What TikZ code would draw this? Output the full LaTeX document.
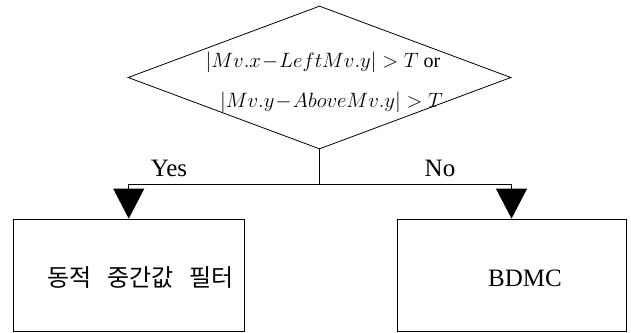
\documentclass[tikz,border=0pt]{standalone}
\usepackage{fontspec}
\setmainfont{Liberation Serif}
\newfontfamily\krfont{Noto Sans CJK KR}
\usetikzlibrary{shapes.geometric,arrows.meta}
\begin{document}
\begin{tikzpicture}[x=1pt,y=-1pt,
  line width=0.8pt,
  boxstyle/.style={draw, rectangle, inner sep=0pt},
  lbl/.style={font=\fontsize{25}{28}\selectfont, inner sep=0pt},
  mathlbl/.style={font=\fontsize{20}{24}\selectfont, inner sep=0pt},
  arr/.style={-{Triangle[width=31pt,length=30pt]}}]
\useasboundingbox (0,0) rectangle (631,332);
\node[diamond, draw, minimum width=383pt, minimum height=143pt, inner sep=0pt] (cond) at (319.5,77.5) {};
\node[mathlbl] (t1) at (323,62) {$|Mv.x\mkern-3mu - \mkern-3mu LeftMv.y| > T$ or};
\node[mathlbl] (t2) at (331.5,102) {$|Mv.y\mkern-3mu - \mkern-3mu AboveMv.y| > T$};
\node[boxstyle, minimum width=231pt, minimum height=112pt] (left) at (128.75,275) {};
\node[boxstyle, minimum width=229pt, minimum height=112pt] (right) at (511.5,275) {};
\node[inner sep=0pt, font=\krfont\fontsize{24}{28}\selectfont] (ltext) at (140.5,278) {동적\hspace{16pt}중간값\hspace{16pt}필터};
\node[lbl] (rtext) at (525,278) {BDMC};
\coordinate (split) at (319.5,184.7);
\draw (cond.south) -- (split);
\draw[arr] (split) -| (left.north);
\draw[arr] (split) -| (right.north);
\node[lbl] (yes) at (169,168) {Yes};
\node[lbl] (no) at (440,168) {No};
\end{tikzpicture}
\end{document}
